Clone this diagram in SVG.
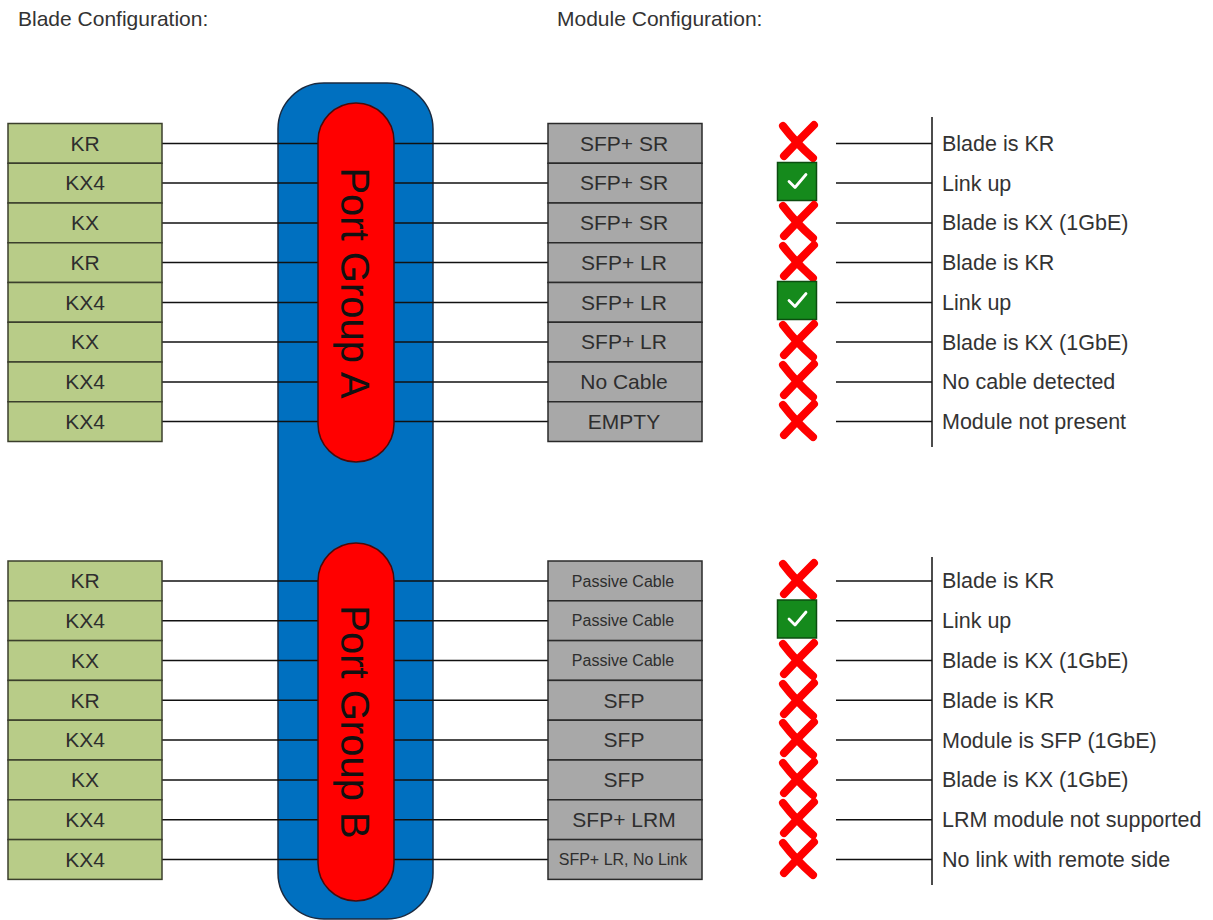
<svg xmlns="http://www.w3.org/2000/svg" xmlns:xlink="http://www.w3.org/1999/xlink" width="1213" height="920" viewBox="0 0 1213 920">
<style>
.hdr{font-family:"Liberation Sans",Arial,sans-serif;font-size:21px;fill:#333}
.blade{fill:#b8cc88;stroke:#3b3f2c;stroke-width:1.5}
.mod{fill:#a8a8a8;stroke:#2a2a2a;stroke-width:1.5}
.lbl{font-family:"Liberation Sans",Arial,sans-serif;font-size:21px;fill:#2e2e2e;text-anchor:middle}
.sm{font-size:16px}
.st{font-family:"Liberation Sans",Arial,sans-serif;font-size:21.5px;fill:#333}
.pg{font-family:"Liberation Sans",Arial,sans-serif;font-size:40px;fill:#111;text-anchor:middle}
.cn line{stroke:#111;stroke-width:1.5}
</style>
<defs>
<g id="x">
<path d="M-15,-15 Q-2,2 15,17" fill="none" stroke="#ff0000" stroke-width="8" stroke-linecap="round"/>
<path d="M16,-16 Q0,0 -14,15" fill="none" stroke="#ff0000" stroke-width="8" stroke-linecap="round"/>
</g>
<g id="ok">
<rect x="-19.5" y="-19" width="39" height="38" fill="#158a1c" stroke="#0c4d10" stroke-width="1.5"/>
<path d="M-8,0 L-2,6 L9,-7" fill="none" stroke="#fff" stroke-width="2.8" stroke-linecap="round" stroke-linejoin="round"/>
</g>
</defs>
<rect width="1213" height="920" fill="#fff"/>
<text class="hdr" x="18" y="26">Blade Configuration:</text>
<text class="hdr" x="557" y="26">Module Configuration:</text>

<g id="backplane">
<rect x="278" y="83" width="155" height="836" rx="46" ry="46" fill="#0070c0" stroke="#1a2a40" stroke-width="1.5"/>
</g>

<g id="connectors" class="cn">
<line x1="162" y1="143.4" x2="548" y2="143.4"/>
<line x1="162" y1="183.1" x2="548" y2="183.1"/>
<line x1="162" y1="222.9" x2="548" y2="222.9"/>
<line x1="162" y1="262.6" x2="548" y2="262.6"/>
<line x1="162" y1="302.4" x2="548" y2="302.4"/>
<line x1="162" y1="342.1" x2="548" y2="342.1"/>
<line x1="162" y1="381.9" x2="548" y2="381.9"/>
<line x1="162" y1="421.6" x2="548" y2="421.6"/>
<line x1="162" y1="580.9" x2="548" y2="580.9"/>
<line x1="162" y1="620.7" x2="548" y2="620.7"/>
<line x1="162" y1="660.5" x2="548" y2="660.5"/>
<line x1="162" y1="700.3" x2="548" y2="700.3"/>
<line x1="162" y1="740.1" x2="548" y2="740.1"/>
<line x1="162" y1="779.9" x2="548" y2="779.9"/>
<line x1="162" y1="819.7" x2="548" y2="819.7"/>
<line x1="162" y1="859.5" x2="548" y2="859.5"/>
<line x1="836" y1="143.4" x2="932" y2="143.4"/>
<line x1="836" y1="183.1" x2="932" y2="183.1"/>
<line x1="836" y1="222.9" x2="932" y2="222.9"/>
<line x1="836" y1="262.6" x2="932" y2="262.6"/>
<line x1="836" y1="302.4" x2="932" y2="302.4"/>
<line x1="836" y1="342.1" x2="932" y2="342.1"/>
<line x1="836" y1="381.9" x2="932" y2="381.9"/>
<line x1="836" y1="421.6" x2="932" y2="421.6"/>
<line x1="836" y1="580.9" x2="932" y2="580.9"/>
<line x1="836" y1="620.7" x2="932" y2="620.7"/>
<line x1="836" y1="660.5" x2="932" y2="660.5"/>
<line x1="836" y1="700.3" x2="932" y2="700.3"/>
<line x1="836" y1="740.1" x2="932" y2="740.1"/>
<line x1="836" y1="779.9" x2="932" y2="779.9"/>
<line x1="836" y1="819.7" x2="932" y2="819.7"/>
<line x1="836" y1="859.5" x2="932" y2="859.5"/>
<line x1="932" y1="117" x2="932" y2="447"/>
<line x1="932" y1="557" x2="932" y2="885"/>
</g>

<g id="portGroupA">
<rect x="318" y="103" width="76" height="359" rx="38" ry="38" fill="#ff0000" stroke="#4a0a0a" stroke-width="1.5"/>
<text class="pg" transform="translate(341,283) rotate(90)">Port Group A</text>
</g>
<g id="portGroupB">
<rect x="318" y="543" width="76" height="358" rx="38" ry="38" fill="#ff0000" stroke="#4a0a0a" stroke-width="1.5"/>
<text class="pg" transform="translate(341,722) rotate(90)">Port Group B</text>
</g>

<g id="bladesA">
<rect class="blade" x="8" y="123.5" width="154" height="39.75"/><text class="lbl" x="85" y="150.6">KR</text>
<rect class="blade" x="8" y="163.25" width="154" height="39.75"/><text class="lbl" x="85" y="190.3">KX4</text>
<rect class="blade" x="8" y="203" width="154" height="39.75"/><text class="lbl" x="85" y="230.1">KX</text>
<rect class="blade" x="8" y="242.75" width="154" height="39.75"/><text class="lbl" x="85" y="269.8">KR</text>
<rect class="blade" x="8" y="282.5" width="154" height="39.75"/><text class="lbl" x="85" y="309.6">KX4</text>
<rect class="blade" x="8" y="322.25" width="154" height="39.75"/><text class="lbl" x="85" y="349.3">KX</text>
<rect class="blade" x="8" y="362" width="154" height="39.75"/><text class="lbl" x="85" y="389.1">KX4</text>
<rect class="blade" x="8" y="401.75" width="154" height="39.75"/><text class="lbl" x="85" y="428.8">KX4</text>
</g>
<g id="bladesB">
<rect class="blade" x="8" y="561" width="154" height="39.8"/><text class="lbl" x="85" y="588.1">KR</text>
<rect class="blade" x="8" y="600.8" width="154" height="39.8"/><text class="lbl" x="85" y="627.9">KX4</text>
<rect class="blade" x="8" y="640.6" width="154" height="39.8"/><text class="lbl" x="85" y="667.7">KX</text>
<rect class="blade" x="8" y="680.4" width="154" height="39.8"/><text class="lbl" x="85" y="707.5">KR</text>
<rect class="blade" x="8" y="720.2" width="154" height="39.8"/><text class="lbl" x="85" y="747.3">KX4</text>
<rect class="blade" x="8" y="760" width="154" height="39.8"/><text class="lbl" x="85" y="787.1">KX</text>
<rect class="blade" x="8" y="799.8" width="154" height="39.8"/><text class="lbl" x="85" y="826.9">KX4</text>
<rect class="blade" x="8" y="839.6" width="154" height="39.8"/><text class="lbl" x="85" y="866.7">KX4</text>
</g>

<g id="modulesA">
<rect class="mod" x="548" y="123.5" width="154" height="39.75"/><text class="lbl" x="624" y="150.6">SFP+ SR</text>
<rect class="mod" x="548" y="163.25" width="154" height="39.75"/><text class="lbl" x="624" y="190.3">SFP+ SR</text>
<rect class="mod" x="548" y="203" width="154" height="39.75"/><text class="lbl" x="624" y="230.1">SFP+ SR</text>
<rect class="mod" x="548" y="242.75" width="154" height="39.75"/><text class="lbl" x="624" y="269.8">SFP+ LR</text>
<rect class="mod" x="548" y="282.5" width="154" height="39.75"/><text class="lbl" x="624" y="309.6">SFP+ LR</text>
<rect class="mod" x="548" y="322.25" width="154" height="39.75"/><text class="lbl" x="624" y="349.3">SFP+ LR</text>
<rect class="mod" x="548" y="362" width="154" height="39.75"/><text class="lbl" x="624" y="389.1">No Cable</text>
<rect class="mod" x="548" y="401.75" width="154" height="39.75"/><text class="lbl" x="624" y="428.8">EMPTY</text>
</g>
<g id="modulesB">
<rect class="mod" x="548" y="561" width="154" height="39.8"/><text class="lbl sm" x="623" y="586.5">Passive Cable</text>
<rect class="mod" x="548" y="600.8" width="154" height="39.8"/><text class="lbl sm" x="623" y="626.3">Passive Cable</text>
<rect class="mod" x="548" y="640.6" width="154" height="39.8"/><text class="lbl sm" x="623" y="666.1">Passive Cable</text>
<rect class="mod" x="548" y="680.4" width="154" height="39.8"/><text class="lbl" x="624" y="707.5">SFP</text>
<rect class="mod" x="548" y="720.2" width="154" height="39.8"/><text class="lbl" x="624" y="747.3">SFP</text>
<rect class="mod" x="548" y="760" width="154" height="39.8"/><text class="lbl" x="624" y="787.1">SFP</text>
<rect class="mod" x="548" y="799.8" width="154" height="39.8"/><text class="lbl" x="624" y="826.9">SFP+ LRM</text>
<rect class="mod" x="548" y="839.6" width="154" height="39.8"/><text class="lbl sm" x="623" y="865.1">SFP+ LR, No Link</text>
</g>

<g id="statusA">
<use xlink:href="#x" href="#x" x="798" y="141"/>
<use xlink:href="#ok" href="#ok" x="797" y="181.5"/>
<use xlink:href="#x" href="#x" x="798" y="221"/>
<use xlink:href="#x" href="#x" x="798" y="261"/>
<use xlink:href="#ok" href="#ok" x="797" y="300.5"/>
<use xlink:href="#x" href="#x" x="798" y="340"/>
<use xlink:href="#x" href="#x" x="798" y="380"/>
<use xlink:href="#x" href="#x" x="798" y="420"/>
</g>
<g id="statusB">
<use xlink:href="#x" href="#x" x="798" y="579"/>
<use xlink:href="#ok" href="#ok" x="797" y="619"/>
<use xlink:href="#x" href="#x" x="798" y="659"/>
<use xlink:href="#x" href="#x" x="798" y="699"/>
<use xlink:href="#x" href="#x" x="798" y="738"/>
<use xlink:href="#x" href="#x" x="798" y="778"/>
<use xlink:href="#x" href="#x" x="798" y="818"/>
<use xlink:href="#x" href="#x" x="798" y="858"/>
</g>

<g id="resultsA">
<text class="st" x="942" y="150.9">Blade is KR</text>
<text class="st" x="942" y="190.6">Link up</text>
<text class="st" x="942" y="230.4">Blade is KX (1GbE)</text>
<text class="st" x="942" y="270.1">Blade is KR</text>
<text class="st" x="942" y="309.9">Link up</text>
<text class="st" x="942" y="349.6">Blade is KX (1GbE)</text>
<text class="st" x="942" y="389.4">No cable detected</text>
<text class="st" x="942" y="429.1">Module not present</text>
</g>
<g id="resultsB">
<text class="st" x="942" y="588.4">Blade is KR</text>
<text class="st" x="942" y="628.2">Link up</text>
<text class="st" x="942" y="668">Blade is KX (1GbE)</text>
<text class="st" x="942" y="707.8">Blade is KR</text>
<text class="st" x="942" y="747.6">Module is SFP (1GbE)</text>
<text class="st" x="942" y="787.4">Blade is KX (1GbE)</text>
<text class="st" x="942" y="827.2">LRM module not supported</text>
<text class="st" x="942" y="867">No link with remote side</text>
</g>
</svg>
